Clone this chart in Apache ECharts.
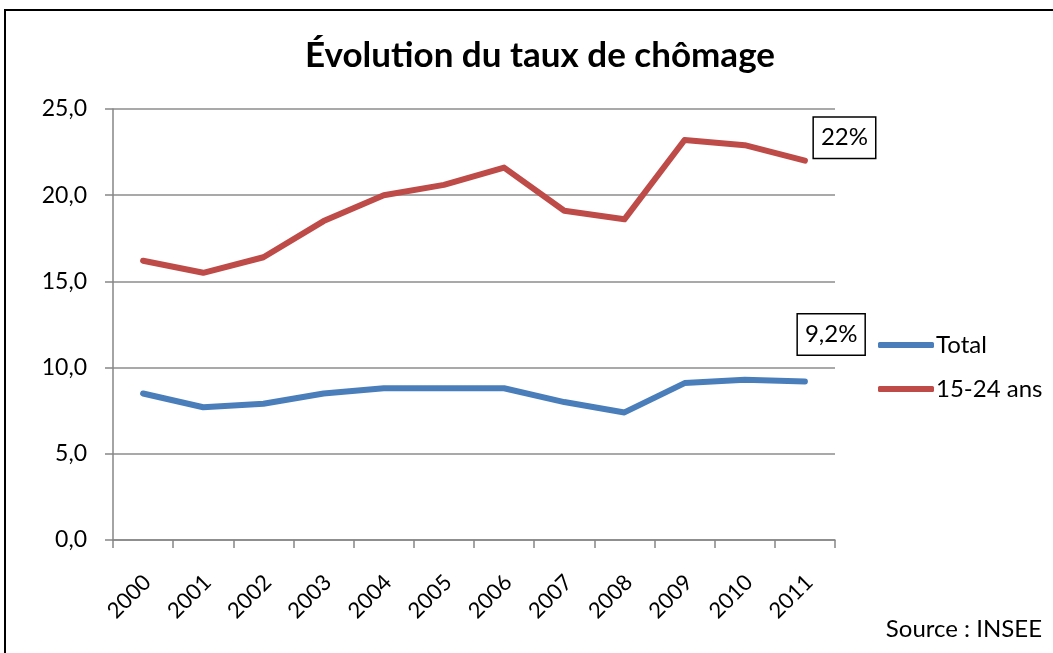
<!DOCTYPE html>
<html>
<head>
    <meta charset="utf-8">
    <title>Évolution du taux de chômage</title>
    <style>
        html, body { margin: 0; padding: 0; background: #fff; }
    </style>
</head>
<body>

    <div id="main" style="width: 1053px; height: 653px;"></div>
    <script src="https://cdn.jsdelivr.net/npm/echarts@6/dist/echarts.min.js"></script>
    <script type="text/javascript">
        // données
        var years = ['2000', '2001', '2002', '2003', '2004', '2005', '2006', '2007', '2008', '2009', '2010', '2011'];
        var total = [8.5, 7.7, 7.9, 8.5, 8.8, 8.8, 8.8, 8.0, 7.4, 9.1, 9.3, 9.2];
        var jeunes = [16.2, 15.5, 16.4, 18.5, 20.0, 20.6, 21.6, 19.1, 18.6, 23.2, 22.9, 22.0];
        var seriesNames = ['Total', '15-24 ans'];
        var endLabels = ['9,2%', '22%'];
        var colors = ['#4A7EBB', '#BE4B48'];

        var chartDom = document.getElementById('main');
        var myChart = echarts.init(chartDom);
        var font = 'Lato, "Open Sans", sans-serif';

        // étiquette encadrée seulement sur le dernier point
        function withEndLabel(values, text, offset) {
            return values.map(function (v, i) {
                if (i !== values.length - 1) return v;
                return {
                    value: v,
                    label: {
                        show: true,
                        position: 'right',
                        distance: 5,
                        offset: offset,
                        formatter: text,
                        fontFamily: font,
                        fontSize: 24,
                        color: '#000',
                        backgroundColor: '#fff',
                        borderColor: '#000',
                        borderWidth: 1.5,
                        padding: [9, 7, 7, 7]
                    }
                };
            });
        }

        var option = {
            animation: false,
            textStyle: { fontFamily: font },
            title: [{
                text: 'Évolution du taux de chômage',
                left: 535,
                textAlign: 'center',
                top: 33,
                textStyle: { fontFamily: font, fontSize: 35, fontWeight: 'bold', color: '#000' }
            }, {
                text: 'Source : INSEE',
                right: 6,
                top: 612,
                textStyle: { fontFamily: font, fontSize: 24, fontWeight: 'normal', color: '#000' }
            }],
            graphic: [{
                type: 'rect',
                shape: { x: 5, y: 10, width: 1200, height: 800 },
                style: { fill: 'none', stroke: '#000', lineWidth: 2 },
                silent: true
            }],
            legend: {
                orient: 'vertical',
                left: 873,
                top: 328,
                itemGap: 20,
                itemWidth: 56,
                itemHeight: 6,
                icon: 'roundRect',
                textStyle: { fontFamily: font, fontSize: 24, color: '#000', padding: [0, 0, 0, -3] },
                data: seriesNames
            },
            grid: { left: 113, right: 218, top: 109, bottom: 113 },
            xAxis: {
                type: 'category',
                data: years,
                boundaryGap: true,
                axisLine: { lineStyle: { color: '#868686', width: 1.5 } },
                axisTick: { show: true, length: 8, lineStyle: { color: '#868686', width: 1.5 } },
                axisLabel: {
                    rotate: 45, fontSize: 22, color: '#000', margin: 43, fontFamily: font,
                    padding: [0, -6, 0, 0]
                }
            },
            yAxis: {
                type: 'value',
                min: 0,
                max: 25,
                interval: 5,
                axisLine: { show: true, lineStyle: { color: '#868686', width: 1.5 } },
                axisTick: { show: true, length: 8, lineStyle: { color: '#868686', width: 1.5 } },
                axisLabel: {
                    fontSize: 23, color: '#000', margin: 26, fontFamily: font,
                    formatter: function (v) { return v.toFixed(1).replace('.', ','); }
                },
                splitLine: { lineStyle: { color: '#8c8c8c', width: 1.5 } }
            },
            series: [{
                name: seriesNames[0],
                type: 'line',
                data: withEndLabel(total, endLabels[0], [-12, -47]),
                symbol: 'circle',
                symbolSize: 0,
                showSymbol: true,
                color: colors[0],
                lineStyle: { width: 6, color: colors[0], cap: 'round', join: 'round' }
            }, {
                name: seriesNames[1],
                type: 'line',
                data: withEndLabel(jeunes, endLabels[1], [4, -23]),
                symbol: 'circle',
                symbolSize: 0,
                showSymbol: true,
                color: colors[1],
                lineStyle: { width: 6, color: colors[1], cap: 'round', join: 'round' }
            }]
        };

        option && myChart.setOption(option);
    </script>
</body>
</html>
